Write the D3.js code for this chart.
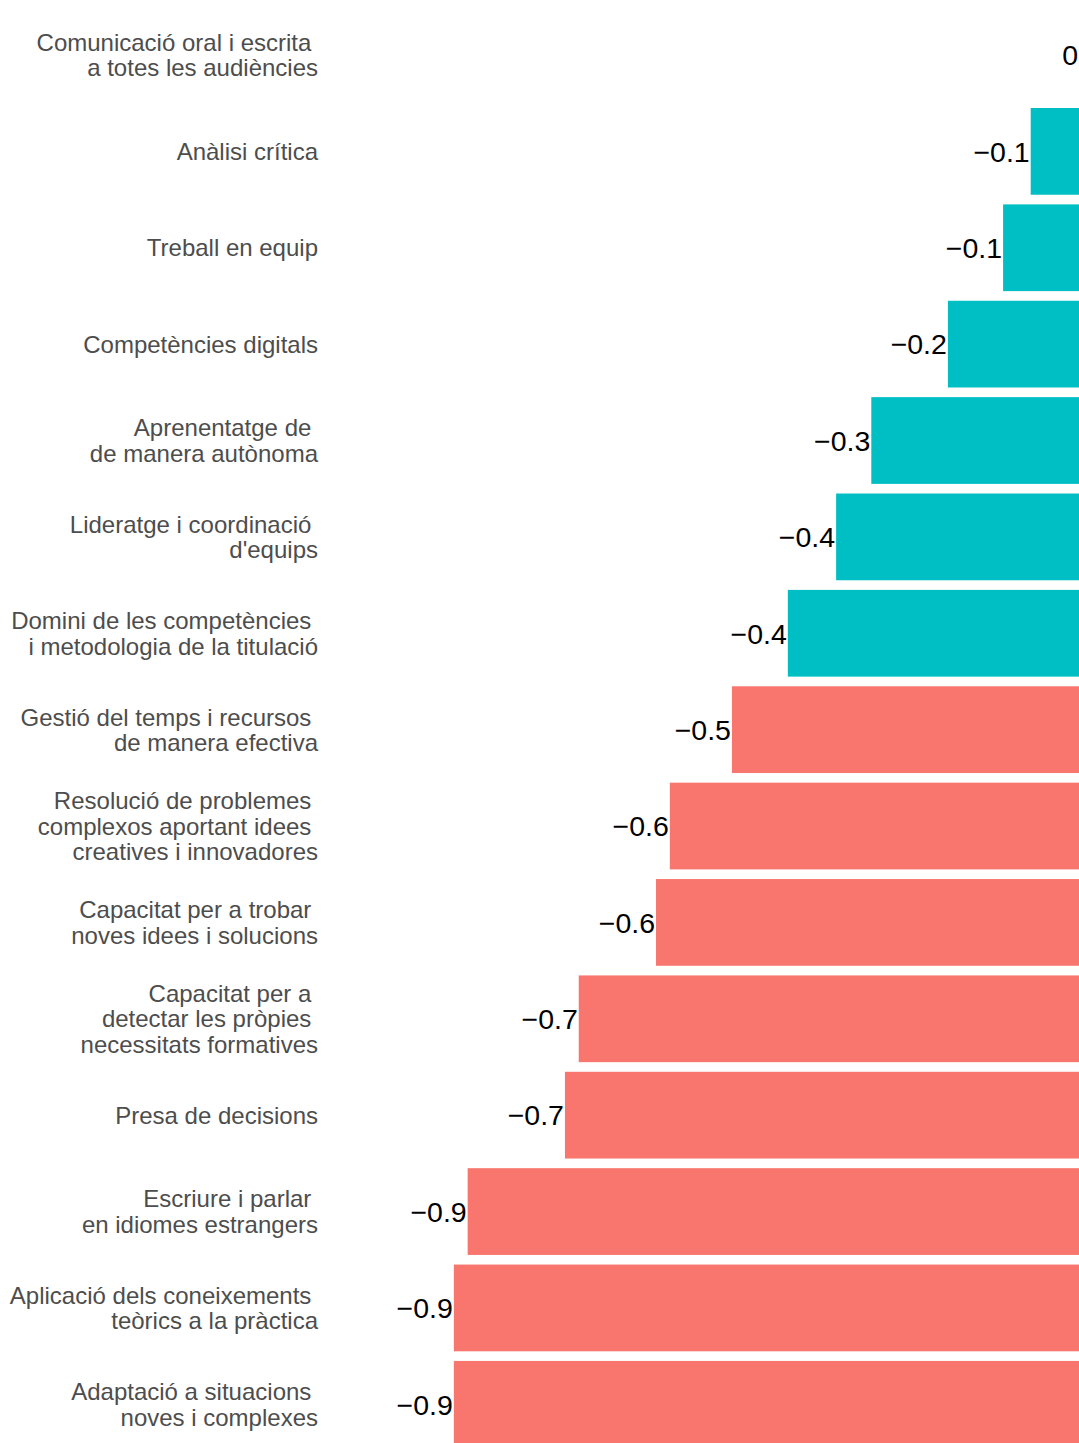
<!DOCTYPE html>
<html>
<head>
<meta charset="utf-8">
<script src="https://cdn.jsdelivr.net/npm/d3@7"></script>
<style>
  html, body { margin: 0; padding: 0; background: #fff; }
  svg { display: block; }
  text { font-family: "Liberation Sans", Arial, sans-serif; white-space: pre; }
</style>
</head>
<body>
<svg id="chart" width="1079" height="1443"></svg>
<script>
// Categories (each entry = label lines, trailing spaces as in the original)
const categories = [
  ["Comunicació oral i escrita ", "a totes les audiències"],
  ["Anàlisi crítica"],
  ["Treball en equip"],
  ["Competències digitals"],
  ["Aprenentatge de ", "de manera autònoma"],
  ["Lideratge i coordinació ", "d'equips"],
  ["Domini de les competències ", "i metodologia de la titulació"],
  ["Gestió del temps i recursos ", "de manera efectiva"],
  ["Resolució de problemes ", "complexos aportant idees ", "creatives i innovadores"],
  ["Capacitat per a trobar ", "noves idees i solucions"],
  ["Capacitat per a ", "detectar les pròpies ", "necessitats formatives"],
  ["Presa de decisions"],
  ["Escriure i parlar ", "en idiomes estrangers"],
  ["Aplicació dels coneixements ", "teòrics a la pràctica"],
  ["Adaptació a situacions ", "noves i complexes"]
];
const values = [0, -0.070, -0.110, -0.190, -0.301, -0.352, -0.422, -0.503, -0.593, -0.613, -0.725, -0.745, -0.886, -0.906, -0.906];
const valueLabels = ["0", "−0.1", "−0.1", "−0.2", "−0.3", "−0.4", "−0.4", "−0.5", "−0.6", "−0.6", "−0.7", "−0.7", "−0.9", "−0.9", "−0.9"];
const groups = ["high", "high", "high", "high", "high", "high", "high", "low", "low", "low", "low", "low", "low", "low", "low"];
const groupColors = { high: "#00BFC4", low: "#F8766D" };

const svg = d3.select("#chart");
const ids = categories.map((c, i) => i);

const x = d3.scaleLinear().domain([-1, 0]).range([389, 1079]);
const y = d3.scaleBand().domain(ids).range([6.8, 1452.5]).paddingInner(0.1).paddingOuter(0.05);

// Bars
svg.append("g").selectAll("rect")
  .data(ids)
  .join("rect")
  .attr("x", i => x(Math.min(0, values[i])))
  .attr("y", i => y(i))
  .attr("width", i => Math.abs(x(values[i]) - x(0)))
  .attr("height", y.bandwidth())
  .attr("fill", i => groupColors[groups[i]]);

// Value labels
svg.append("g").selectAll("text")
  .data(ids)
  .join("text")
  .attr("x", i => x(values[i]) - 1)
  .attr("y", i => y(i) + y.bandwidth() / 2)
  .attr("dy", "0.36em")
  .attr("text-anchor", "end")
  .attr("font-size", 28.5)
  .attr("fill", "#000")
  .text(i => valueLabels[i]);

// Category labels (axis)
const lineH = 25.5;
const lab = svg.append("g").selectAll("text")
  .data(ids)
  .join("text")
  .attr("x", 318)
  .attr("text-anchor", "end")
  .attr("font-size", 24)
  .attr("fill", "#4D4D4D")
  .attr("xml:space", "preserve");
lab.each(function(i) {
  const lines = categories[i];
  const cy = y(i) + y.bandwidth() / 2;
  const top = cy - (lines.length - 1) * lineH / 2;
  d3.select(this).selectAll("tspan")
    .data(lines)
    .join("tspan")
    .attr("x", 318)
    .attr("y", (d, k) => top + k * lineH)
    .attr("dy", "0.36em")
    .text(d => d);
});
</script>
</body>
</html>
